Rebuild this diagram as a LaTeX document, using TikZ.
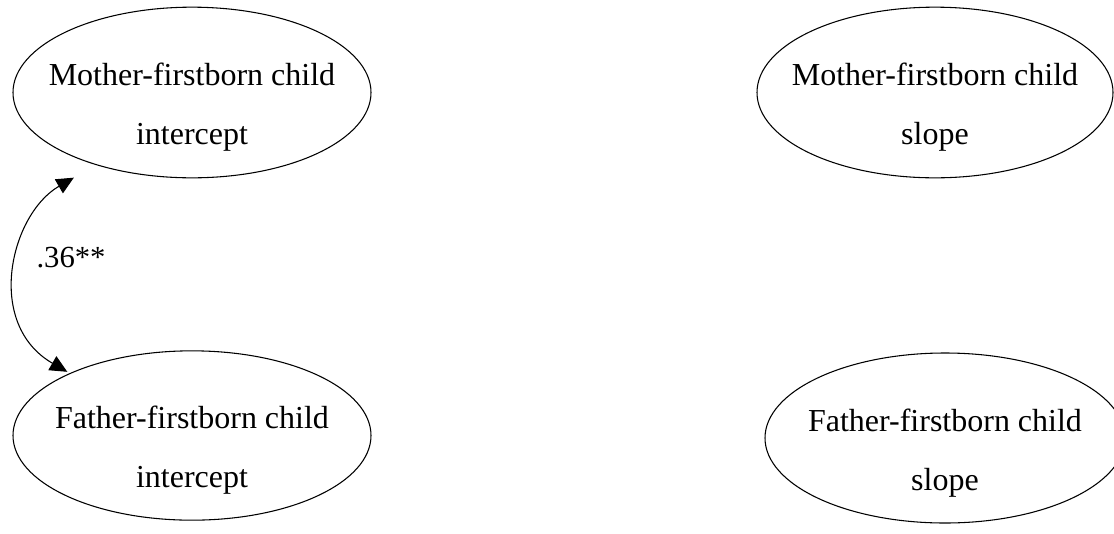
\documentclass[tikz,border=0pt]{standalone}
\usepackage{fontspec}
\setmainfont{Liberation Serif}
\usetikzlibrary{arrows.meta,shapes.geometric}

\tikzset{
  oval/.style={draw, ellipse, inner sep=0pt, line width=0.8pt},
  ovaltext/.style={align=center, inner sep=0pt, yshift=-11pt,
    font=\fontsize{24pt}{44.25pt}\selectfont},
  corr/.style={{Triangle[length=13pt,width=12pt]}-{Triangle[length=13pt,width=12pt]}, line width=0.8pt},
}

\begin{document}
\begin{tikzpicture}[x=0.75pt, y=-0.75pt]
    \useasboundingbox (0,0) rectangle (1114,533);

    % Intercepts
    \node[oval, minimum width=268.5pt, minimum height=128pt] (mi) at (192,92.5) {};
    \node[ovaltext] (mi-t) at (mi) {Mother-firstborn child\\intercept};
    \node[oval, minimum width=268.5pt, minimum height=127pt] (fi) at (192,435.5) {};
    \node[ovaltext] (fi-t) at (fi) {Father-firstborn child\\intercept};

    % Slopes
    \node[oval, minimum width=267pt, minimum height=128pt] (ms) at (935,92.5) {};
    \node[ovaltext] (ms-t) at (ms) {Mother-firstborn child\\slope};
    \node[oval, minimum width=270pt, minimum height=127.5pt] (fs) at (945,438) {};
    \node[ovaltext] (fs-t) at (fs) {Father-firstborn child\\slope};

    % Covariance of intercepts
    \draw[corr, shorten <=19pt, shorten >=2pt] (mi.217) to[out=210, in=150, looseness=1.2]
        node[pos=.5, anchor=west, inner sep=0pt, xshift=13pt, yshift=9pt, font=\fontsize{23pt}{28pt}\selectfont] (r) {.36**} (fi.153);
\end{tikzpicture}
\end{document}
